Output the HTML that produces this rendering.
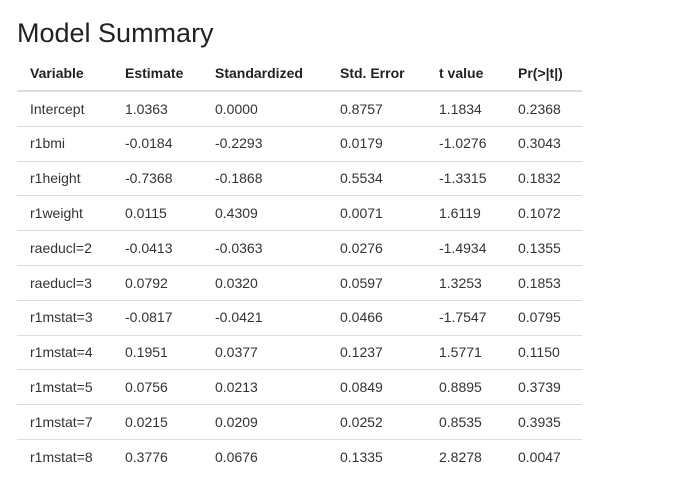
<!DOCTYPE html>
<html><head><meta charset="utf-8"><style>
body{margin:0;width:700px;height:486px;background:#fff;font-family:"Liberation Sans",Arial,sans-serif;color:#333;position:relative;overflow:hidden}
h1{position:absolute;left:17px;top:16px;margin:0;font-size:27px;font-weight:normal;line-height:34px;color:#222}
.row{position:absolute;left:17px;width:565px;height:34.8px}
.cell{position:absolute;top:0;line-height:34.8px;font-size:14px;white-space:nowrap}
.hdr .cell{font-weight:bold;color:#222}
.line{position:absolute;left:17px;width:565px;background:#ddd}
</style></head><body>
<h1>Model Summary</h1>
<div id="tbl"></div>
<script>
const headers=["Variable","Estimate","Standardized","Std. Error","t value","Pr(>|t|)"];
const variables=["Intercept","r1bmi","r1height","r1weight","raeducl=2","raeducl=3","r1mstat=3","r1mstat=4","r1mstat=5","r1mstat=7","r1mstat=8"];
const estimates=["1.0363","-0.0184","-0.7368","0.0115","-0.0413","0.0792","-0.0817","0.1951","0.0756","0.0215","0.3776"];
const standardized=["0.0000","-0.2293","-0.1868","0.4309","-0.0363","0.0320","-0.0421","0.0377","0.0213","0.0209","0.0676"];
const stdErrors=["0.8757","0.0179","0.5534","0.0071","0.0276","0.0597","0.0466","0.1237","0.0849","0.0252","0.1335"];
const tValues=["1.1834","-1.0276","-1.3315","1.6119","-1.4934","1.3253","-1.7547","1.5771","0.8895","0.8535","2.8278"];
const pValues=["0.2368","0.3043","0.1832","0.1072","0.1355","0.1853","0.0795","0.1150","0.3739","0.3935","0.0047"];
const colX=[13,108,198,323,422,501];
const tbl=document.getElementById('tbl');
function makeRow(vals,top,cls,name){
  const r=document.createElement('div');
  r.className='row '+cls;r.style.top=top+'px';
  
  
  vals.forEach((v,i)=>{const c=document.createElement('div');c.className='cell';c.style.left=colX[i]+'px';c.textContent=v;
    
    
    r.appendChild(c);});
  tbl.appendChild(r);
}
makeRow(headers,56,'hdr','header-row');
const hl=document.createElement('div');hl.className='line';hl.style.top='90px';hl.style.height='2px';


tbl.appendChild(hl);
variables.forEach((v,i)=>{
  const top=91.5+i*34.8;
  makeRow([v,estimates[i],standardized[i],stdErrors[i],tValues[i],pValues[i]],top,'','row-'+v);
  if(i<variables.length-1){
    const l=document.createElement('div');l.className='line';l.style.top=Math.round(top+34.3)+'px';l.style.height='1px';
    
    
    tbl.appendChild(l);
  }
});
</script>
</body></html>
